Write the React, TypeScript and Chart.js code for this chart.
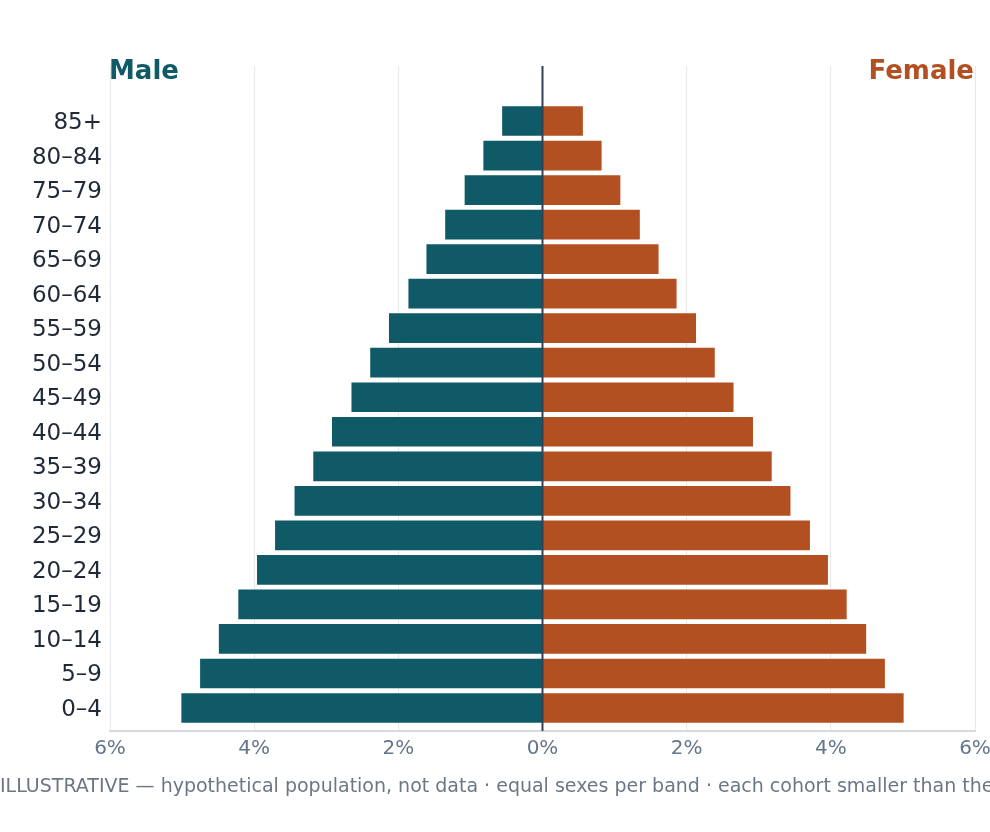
import { useEffect, useRef } from "react";
import { Chart, registerables } from "chart.js";

Chart.register(...registerables);

// youngest band first (drawn at the bottom)
const ageGroups = [
  "0–4", "5–9", "10–14", "15–19", "20–24", "25–29", "30–34", "35–39", "40–44",
  "45–49", "50–54", "55–59", "60–64", "65–69", "70–74", "75–79", "80–84", "85+",
];
const malePct = [
  5.01, 4.75, 4.49, 4.22, 3.96, 3.71, 3.44, 3.18, 2.92,
  2.65, 2.39, 2.13, 1.86, 1.61, 1.35, 1.08, 0.82, 0.56,
];
const femalePct = [
  5.01, 4.75, 4.49, 4.22, 3.96, 3.71, 3.44, 3.18, 2.92,
  2.65, 2.39, 2.13, 1.86, 1.61, 1.35, 1.08, 0.82, 0.56,
];
const xTicks = [-6, -4, -2, 0, 2, 4, 6];
const footnote =
  "ILLUSTRATIVE — hypothetical population, not data · equal sexes per band · each cohort smaller than the one above";

const MALE = "#0f5a66";
const FEMALE = "#b35021";
const FONT = "'DejaVu Sans', sans-serif";

export default function App() {
  const canvasRef = useRef<HTMLCanvasElement | null>(null);
  const chartRef = useRef<Chart | null>(null);

  useEffect(() => {
    document.body.style.margin = "0";
    if (!canvasRef.current) return;
    chartRef.current?.destroy();

    const overlay = {
      id: "pyramidOverlay",
      afterDatasetsDraw(chart: Chart) {
        const { ctx, chartArea, scales } = chart;
        const x0 = scales.x.getPixelForValue(0);
        ctx.save();
        ctx.strokeStyle = "#334155";
        ctx.lineWidth = 2;
        ctx.beginPath();
        ctx.moveTo(x0, chartArea.top);
        ctx.lineTo(x0, chartArea.bottom);
        ctx.stroke();
        ctx.restore();
      },
      afterDraw(chart: Chart) {
        const { ctx, chartArea } = chart;
        ctx.save();
        ctx.font = `bold 26px ${FONT}`;
        ctx.textBaseline = "alphabetic";
        ctx.fillStyle = MALE;
        ctx.textAlign = "left";
        ctx.fillText("Male", chartArea.left - 1, chartArea.top + 13);
        ctx.fillStyle = FEMALE;
        ctx.textAlign = "right";
        ctx.fillText("Female", chartArea.right - 1, chartArea.top + 13);
        ctx.font = `19px ${FONT}`;
        ctx.fillStyle = "#6b7785";
        ctx.textAlign = "left";
        ctx.fillText(footnote, 0, 792);
        ctx.restore();
      },
    };

    chartRef.current = new Chart(canvasRef.current, {
      type: "bar",
      data: {
        datasets: [
          {
            label: "Male",
            data: malePct.map((v, i) => ({ x: -v, y: i })),
            backgroundColor: MALE,
            grouped: false,
          },
          {
            label: "Female",
            data: femalePct.map((v, i) => ({ x: v, y: i })),
            backgroundColor: FEMALE,
            grouped: false,
          },
        ],
      },
      options: {
        indexAxis: "y",
        responsive: true,
        maintainAspectRatio: false,
        animation: false,
        barPercentage: 0.86,
        categoryPercentage: 1,
        layout: { padding: { top: 66, right: 35, left: 0, bottom: 0 } },
        plugins: {
          legend: { display: false },
          tooltip: { enabled: false },
        },
        scales: {
          x: {
            type: "linear",
            min: -6,
            max: 6,
            afterBuildTicks: (axis: any) => {
              axis.ticks = xTicks.map((v) => ({ value: v }));
            },
            afterFit: (scale: any) => {
              scale.height = 101;
            },
            ticks: {
              padding: 6,
              color: "#64748b",
              font: { family: FONT, size: 20 },
              callback: (v: any) => `${Math.abs(Number(v))}%`,
            },
            grid: {
              color: "#e6e8eb",
              lineWidth: 1,
              drawTicks: false,
            },
            border: { display: true, color: "#d5dbe1", width: 2 },
          },
          y: {
            type: "linear",
            offset: false,
            min: -0.666,
            max: 18.593,
            afterBuildTicks: (axis: any) => {
              axis.ticks = ageGroups.map((_, i) => ({ value: i }));
            },
            afterFit: (scale: any) => {
              scale.width = 110;
            },
            ticks: {
              padding: 8,
              labelOffset: 2,
              color: "#1f2937",
              font: { family: FONT, size: 23 },
              callback: (v: any) => ageGroups[Number(v)] ?? "",
            },
            grid: { display: false, drawTicks: false },
            border: { display: false },
          },
        },
      },
      plugins: [overlay],
    });

    return () => {
      chartRef.current?.destroy();
      chartRef.current = null;
    };
  }, []);

  return (
    <div style={{ width: 990, height: 832, overflow: "hidden", position: "relative" }}>
      <div style={{ width: 1010, height: 832 }}>
        <canvas ref={canvasRef} />
      </div>
    </div>
  );
}
